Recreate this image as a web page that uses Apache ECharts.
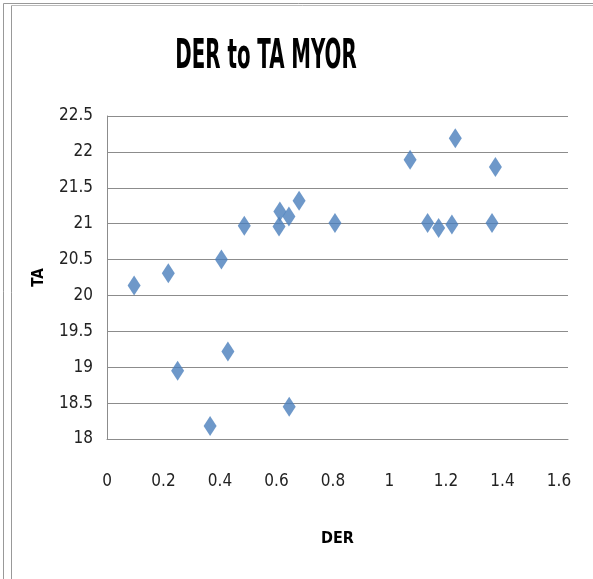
<!DOCTYPE html>
<html>
<head>
<meta charset="utf-8">
<script src="https://cdn.jsdelivr.net/npm/echarts@6/dist/echarts.min.js"></script>
<style>
  html, body { margin: 0; padding: 0; background: #fff; }
  #chart { width: 593px; height: 579px; }
</style>
</head>
<body>
<div id="chart"></div>
<script>
// DER vs TA
var derValues = [0.096, 0.217, 0.405, 0.486, 0.609, 0.612, 0.644, 0.680, 0.807,
                 1.073, 1.233, 1.375, 1.135, 1.174, 1.221, 1.363,
                 0.250, 0.428, 0.365, 0.645];
var taValues = [20.14, 20.31, 20.50, 20.97, 20.96, 21.17, 21.10, 21.32, 21.01,
                21.89, 22.19, 21.79, 21.01, 20.94, 20.99, 21.01,
                18.95, 19.22, 18.18, 18.45];

var points = derValues.map(function (d, i) { return [d, taValues[i]]; });

var font = '"DejaVu Sans Condensed", "Liberation Sans", sans-serif';
var gray = '#8c8c8c';

var myChart = echarts.init(document.getElementById('chart'));
var option = {
  animation: false,
  backgroundColor: '#fff',
  grid: { left: 107, right: 25, top: 116, bottom: 140 },
  xAxis: {
    type: 'value',
    min: 0,
    max: 1.632,
    interval: 0.2,
    name: 'DER',
    nameLocation: 'middle',
    nameGap: 92,
    nameTextStyle: { fontFamily: font, fontSize: 16, fontWeight: 'bold', color: '#000' },
    axisLine: { show: true, lineStyle: { color: gray, width: 1 } },
    axisTick: { show: false },
    splitLine: { show: false },
    axisLabel: {
      margin: 34,
      fontFamily: font, fontSize: 17, color: '#222',
      showMaxLabel: false,
      formatter: function (v) {
        return Math.abs(v * 5 - Math.round(v * 5)) < 1e-6 ? String(+v.toFixed(1)) : '';
      }
    }
  },
  yAxis: {
    type: 'value',
    min: 18,
    max: 22.5,
    interval: 0.5,
    name: 'TA',
    nameLocation: 'middle',
    nameGap: 60,
    nameTextStyle: { fontFamily: font, fontSize: 15, fontWeight: 'bold', color: '#000' },
    axisLine: { show: true, lineStyle: { color: gray, width: 1 } },
    axisTick: { show: false },
    splitLine: { show: true, lineStyle: { color: gray, width: 1 } },
    axisLabel: { margin: 14, fontFamily: font, fontSize: 17, color: '#222' }
  },
  graphic: [
    // chart title, squeezed sideways like the narrow font of the original
    {
      type: 'text', x: 266, y: 58, scaleX: 0.55,
      style: {
        text: 'DER to TA MYOR', fill: '#000',
        font: 'bold 40px ' + font,
        textAlign: 'center', textVerticalAlign: 'middle'
      }
    },
    // frame lines at the left/top edge
    { type: 'line', shape: { x1: 3.5, y1: 3.5, x2: 3.5, y2: 579 }, style: { stroke: '#999', lineWidth: 1 } },
    { type: 'line', shape: { x1: 3.5, y1: 3.5, x2: 593, y2: 3.5 }, style: { stroke: '#999', lineWidth: 1 } },
    { type: 'line', shape: { x1: 11.5, y1: 5.5, x2: 11.5, y2: 579 }, style: { stroke: '#999', lineWidth: 1 } },
    { type: 'line', shape: { x1: 11.5, y1: 5.5, x2: 593, y2: 5.5 }, style: { stroke: '#bbb', lineWidth: 1 } }
  ],
  series: [
    {
      type: 'scatter',
      data: points,
      symbol: 'diamond',
      symbolSize: [13, 20],
      itemStyle: { color: '#4a7ebb' }
    }
  ]
};
myChart.setOption(option);
</script>
</body>
</html>
